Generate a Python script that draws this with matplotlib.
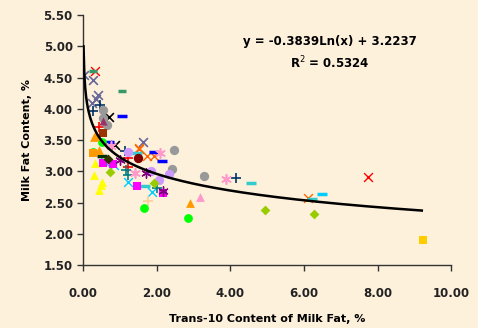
import numpy as np
import matplotlib
matplotlib.use("Agg")
import matplotlib.pyplot as plt

# series: (marker, color, size, xs, ys)
slate_x = ([0.03, 0.26, 0.40, 0.25, 1.63, 0.35], [4.54, 4.46, 4.22, 4.09, 3.47, 4.15])
red_x = ([0.33, 7.74], [4.61, 2.91])
orange_x = ([1.52, 1.74, 1.93, 1.52, 6.11], [3.37, 3.24, 3.24, 3.35, 2.57])
black_x = ([0.71, 0.87], [3.87, 3.42])
cyan_x = ([0.60, 1.22, 1.88, 0.85], [3.15, 2.83, 2.67, 3.10])
green_dash = ([0.27, 1.06], [4.61, 4.28])
blue_dash = ([1.06, 0.71, 1.93, 2.15], [3.88, 3.47, 3.31, 3.16])
cyan_dash = ([1.47, 1.68, 4.57, 6.22], [3.29, 2.76, 2.81, 2.56])
sky_dash = ([6.49], [2.64])
dkgreen_dash = ([0.52], [3.24])
navy_plus = ([0.46, 0.27, 1.14, 4.16], [4.06, 3.96, 3.32, 2.89])
red_plus = ([0.43, 1.22, 1.22], [3.71, 3.21, 3.07])
teal_plus = ([1.17, 1.22, 2.01], [3.02, 2.94, 2.73])
peach_plus = ([1.77], [2.52])
grey_circ = ([0.55, 0.53, 0.64, 2.47, 2.42, 3.29], [3.98, 3.85, 3.74, 3.34, 3.04, 2.92])
green_circ = ([0.52, 0.27, 1.66, 2.85], [3.47, 3.31, 2.41, 2.25])
lav_circ = ([1.22, 1.85, 2.07, 2.34], [3.31, 3.00, 2.86, 2.95])
dkred_circ = ([1.49], [3.21])
purple_tri = ([0.53], [3.80])
orange_tri = ([0.33, 0.30, 0.43, 2.91], [3.56, 3.55, 3.34, 2.49])
yellow_tri = ([0.33, 0.30, 0.52, 0.43, 0.48], [3.13, 2.94, 2.83, 2.70, 2.78])
pink_tri = ([3.18], [2.59])
brown_sq = ([0.55], [3.61])
orange_sq = ([0.27], [3.29])
magenta_sq = ([0.54, 0.82, 1.47, 2.17], [3.13, 3.12, 2.76, 2.65])
gold_sq = ([9.24], [1.90])
dkolive_dia = ([0.68], [3.19])
yg_dia = ([0.73, 1.93, 4.95, 6.28], [2.99, 2.81, 2.38, 2.32])
purple_ast = ([1.00, 1.71, 2.17], [3.18, 2.97, 2.68])
pink_ast = ([2.09, 1.41, 3.89, 0.75], [3.29, 2.97, 2.87, 3.40])

coef_a, coef_b = -0.3839, 3.2237
eq_text = "y = -0.3839Ln(x) + 3.2237"
r2_text = "R$^2$ = 0.5324"
xticks = [0, 2, 4, 6, 8, 10]
yticks = [1.5, 2.0, 2.5, 3.0, 3.5, 4.0, 4.5, 5.0, 5.5]

bg = "#FDF1DC"
fig = plt.figure(figsize=(4.78, 3.28), dpi=100, facecolor=bg)
ax = fig.add_axes([0.174, 0.192, 0.770, 0.762], facecolor=bg)

styles = [
    (slate_x, "x", "#666699", 40, 1.2),
    (red_x, "x", "#FF0000", 40, 1.0),
    (orange_x, "x", "#FF6600", 40, 1.0),
    (black_x, "x", "#000000", 40, 1.2),
    (cyan_x, "x", "#00CCFF", 40, 1.0),
    (green_dash, "_", "#339966", 40, 2.5),
    (blue_dash, "_", "#0000FF", 60, 2.5),
    (cyan_dash, "_", "#33CCCC", 60, 2.5),
    (sky_dash, "_", "#00CCFF", 60, 2.5),
    (dkgreen_dash, "_", "#003300", 50, 2.5),
    (navy_plus, "+", "#003366", 45, 1.2),
    (red_plus, "+", "#FF0000", 45, 1.2),
    (teal_plus, "+", "#008080", 45, 1.2),
    (peach_plus, "+", "#FFCC99", 45, 1.2),
    (grey_circ, "o", "#999999", 45, 0),
    (green_circ, "o", "#00FF00", 40, 0),
    (lav_circ, "o", "#CC99FF", 45, 0),
    (dkred_circ, "o", "#800000", 45, 0),
    (purple_tri, "^", "#993366", 35, 0),
    (orange_tri, "^", "#FF9900", 40, 0),
    (yellow_tri, "^", "#FFFF00", 40, 0),
    (pink_tri, "^", "#FF99CC", 40, 0),
    (brown_sq, "s", "#993300", 30, 0),
    (orange_sq, "s", "#FF9900", 30, 0),
    (magenta_sq, "s", "#FF00FF", 35, 0),
    (gold_sq, "s", "#FFCC00", 35, 0),
    (dkolive_dia, "D", "#333300", 25, 0),
    (yg_dia, "D", "#99CC00", 25, 0),
    (purple_ast, (6, 2, 0), "#800080", 45, 1.0),
    (pink_ast, (6, 2, 0), "#FF99CC", 45, 1.2),
]
for (xs, ys), m, c, s, lw in styles:
    if lw:
        ax.scatter(xs, ys, marker=m, color=c, s=s, linewidths=lw, zorder=3)
    else:
        ax.scatter(xs, ys, marker=m, color=c, s=s, linewidths=0, zorder=3)

xx = np.linspace(np.exp((coef_b - 5.0) / -coef_a), 9.2, 400)
ax.plot(xx, coef_a * np.log(xx) + coef_b, color="black", lw=1.8, zorder=4)

ax.set_xlim(0, 10)
ax.set_ylim(1.5, 5.5)
ax.set_xticks(xticks)
ax.set_yticks(yticks)
ax.set_xticklabels([f"{v:.2f}" for v in xticks])
ax.set_yticklabels([f"{v:.2f}" for v in yticks])
for sp in ["top", "right"]:
    ax.spines[sp].set_visible(False)
for sp in ["left", "bottom"]:
    ax.spines[sp].set_color("#333333")
    ax.spines[sp].set_linewidth(1.0)
ax.tick_params(axis="both", direction="out", length=4, width=1, color="#333333",
               labelsize=8.5, labelcolor="#222222")
ax.tick_params(axis="x", pad=12)
for lab in ax.get_xticklabels() + ax.get_yticklabels():
    lab.set_fontweight("bold")

ax.set_xlabel("Trans-10 Content of Milk Fat, %", fontsize=8, fontweight="bold", labelpad=10)
ax.set_ylabel("Milk Fat Content, %", fontsize=8, fontweight="bold", labelpad=8)

ax.text(6.71, 5.07, eq_text, ha="center", va="center", fontsize=8.5, fontweight="bold")
ax.text(6.71, 4.73, r2_text, ha="center", va="center", fontsize=8.5, fontweight="bold")

fig.savefig("out.png", dpi=100, facecolor=bg)
